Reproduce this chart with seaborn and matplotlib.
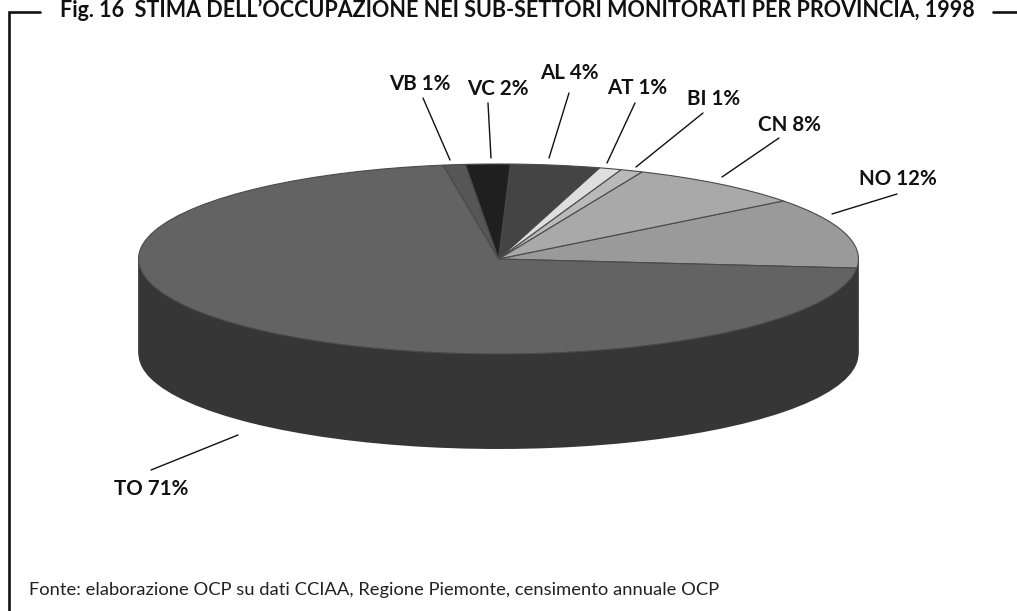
import matplotlib
matplotlib.use("Agg")
import matplotlib.pyplot as plt
import seaborn as sns

province = ['NO', 'CN', 'BI', 'AT', 'AL', 'VC', 'VB', 'TO']
quota = [12, 8, 1, 1, 4, 2, 1, 71]
top_colors = ['#9a9a9a', '#a9a9a9', '#b9b9b9', '#dedede', '#444444', '#1f1f1f', '#565656', '#636363']
side_color = '#363636'

title = 'Fig. 16  STIMA DELL\u2019OCCUPAZIONE NEI SUB-SETTORI MONITORATI PER PROVINCIA, 1998'
source = 'Fonte: elaborazione OCP su dati CCIAA, Regione Piemonte, censimento annuale OCP'

# label centre and leader line in pixels of the picture
label_pos = {'VB': (420, 84), 'VC': (498, 89), 'AL': (569, 73), 'AT': (637, 88),
             'BI': (714, 99), 'CN': (789, 125), 'NO': (898, 179), 'TO': (151, 489)}
leaders = {'VB': (423, 98, 450, 160), 'VC': (488, 103, 491, 158), 'AL': (569, 93, 549, 158),
           'AT': (635, 103, 607, 163), 'BI': (703, 113, 636, 167), 'CN': (779, 138, 722, 177),
           'NO': (897, 194, 832, 214), 'TO': (151, 470, 238, 435)}

sns.set_theme(style='white')
plt.rcParams['font.family'] = ['Lato', 'DejaVu Sans']

W, H = 1017, 611
cx, cy, rx, ry = 498.5, 259, 360, 95
fig = plt.figure(figsize=(W / 100, H / 100), dpi=100)
ax = fig.add_axes([0, 0, 1, 1])

# thickness of the cake: same pie stacked downwards
steps = 48
for k in range(steps, 0, -1):
    ax.pie(quota, colors=[side_color] * len(quota), startangle=-5.5,
           center=(0, -k / steps), wedgeprops={'linewidth': 0})
ax.pie(quota, colors=top_colors, startangle=-5.5, center=(0, 0),
       wedgeprops={'linewidth': 0.8, 'edgecolor': '#4a4a4a'})
ax.set_aspect('auto')
ax.set_xlim((0 - cx) / rx, (W - cx) / rx)
ax.set_ylim((cy - H) / ry, (cy - 0) / ry)
ax.axis('off')

# overlay in picture pixels for frame and text
over = fig.add_axes([0, 0, 1, 1], facecolor='none')
over.set_xlim(0, W)
over.set_ylim(H, 0)
over.axis('off')

over.plot([40, 9, 9], [12, 12, H], color='#111111', lw=1.9, solid_joinstyle='miter')
over.plot([993, W], [12, 12], color='#111111', lw=1.9)
over.text(517, 17, title, ha='center', va='baseline', fontsize=15.5, fontweight='bold', color='#111111')
over.text(29, 590.5, source, ha='left', va='center', fontsize=13.2, color='#222222')

for name, val in zip(province, quota):
    x, y = label_pos[name]
    over.text(x, y, f'{name} {val}%', ha='center', va='center', fontsize=14.8,
              fontweight='bold', color='#111111')
    x0, y0, x1, y1 = leaders[name]
    over.plot([x0, x1], [y0, y1], color='#111111', lw=1)

fig.savefig('out.png', dpi=100)
